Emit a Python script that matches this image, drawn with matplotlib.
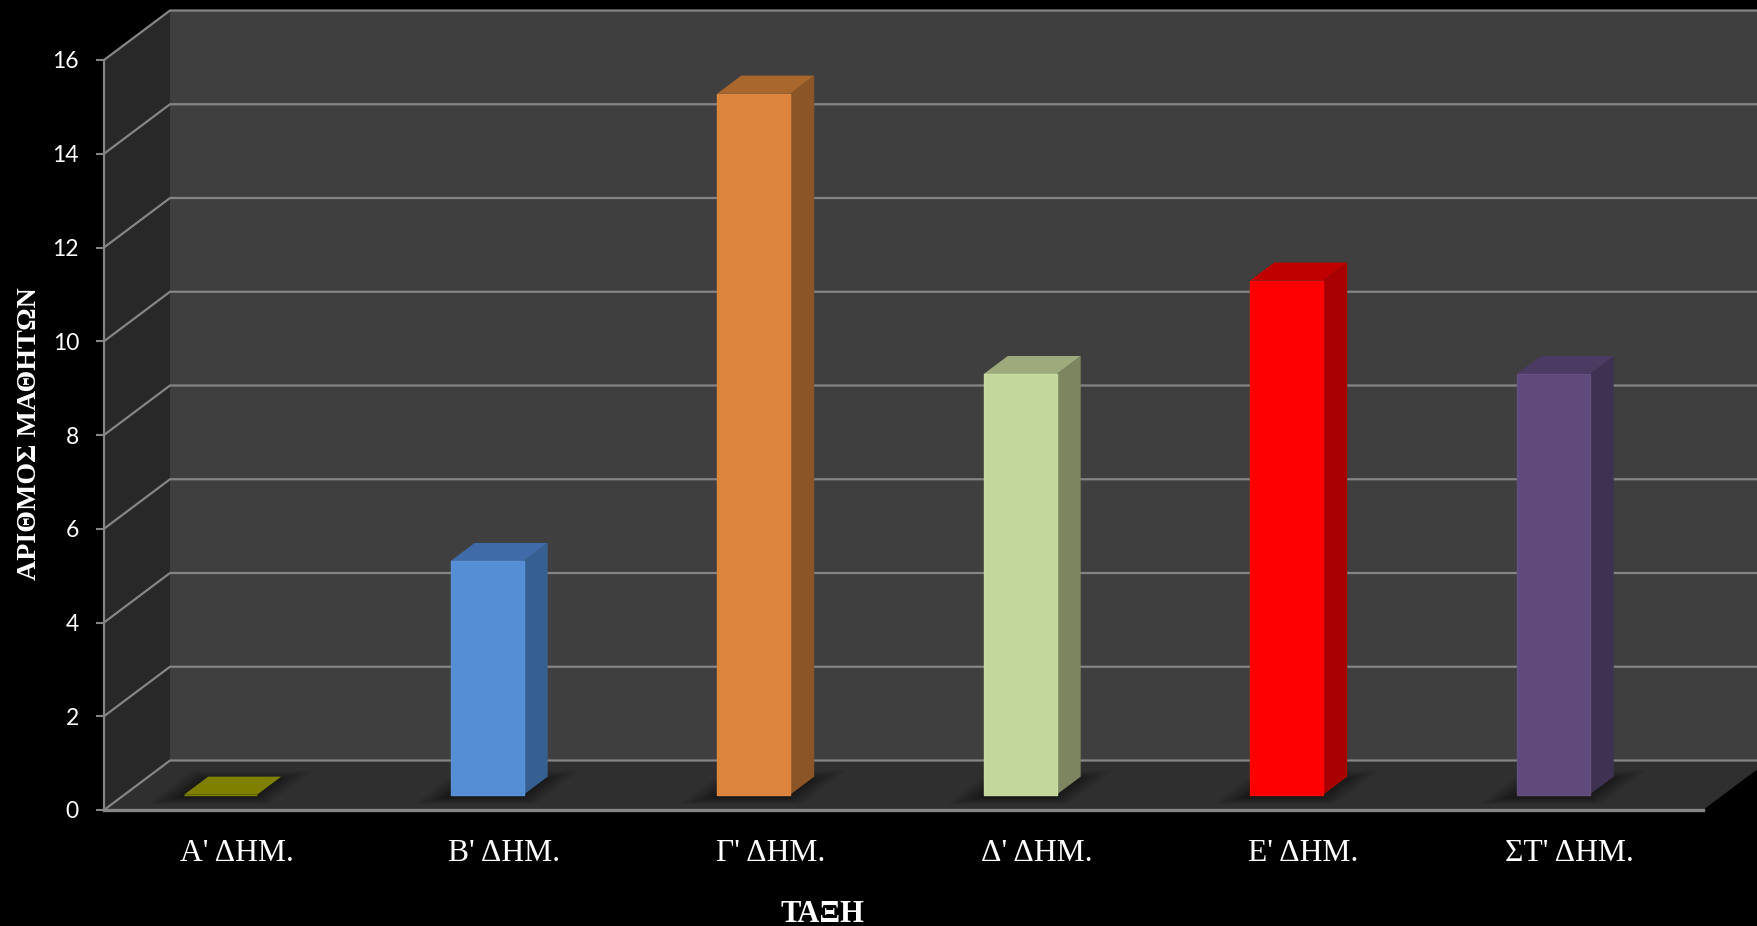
#!/usr/bin/env python3
import matplotlib
matplotlib.use("Agg")
import matplotlib.pyplot as plt

# ── data ──
categories = ["Α' ΔΗΜ.", "Β' ΔΗΜ.", "Γ' ΔΗΜ.", "Δ' ΔΗΜ.", "Ε' ΔΗΜ.", "ΣΤ' ΔΗΜ."]
students = [0, 5, 15, 9, 11, 9]
y_ticks = [0, 2, 4, 6, 8, 10, 12, 14, 16]
x_title = "ΤΑΞΗ"
y_title = "ΑΡΙΘΜΟΣ ΜΑΘΗΤΩΝ"

# ── colours: front / side / top ──
front_colors = ["#808000", "#558ed5", "#dc843e", "#c3d69b", "#ff0000", "#604a7b"]
side_colors = ["#808000", "#376092", "#8c5526", "#7c8560", "#a80000", "#3f3151"]
top_colors = ["#808000", "#3f6ca8", "#a9672e", "#9dab7c", "#c00000", "#4b3a62"]
edge_colors = ["#808000", "#5a92da", "#e08840", "#c7daa0", "#f80808", "#654e80"]
GRID = "#858585"

# ── 3D look: depth 0 = front plane of the axes, depth 1 = back wall ──
W, H = 1757, 926
DX = 66 / 266.5    # back wall shift in category units
DY = 49.5 / 46.875   # back wall shift in value units
BAR_LEFT = 0.224
BAR_W = 0.274
BAR_D0 = 0.31
BAR_D1 = 0.674
BAR_SCALE = 0.997  # bars sit deeper than the front axis, a bit shorter


def px(x, v, d):
    return x + d * DX, v + d * DY


def quad(ax, corners, color, z, **kw):
    xs, ys = zip(*[px(*c) for c in corners])
    ax.fill(xs, ys, color=color, zorder=z, clip_on=False, lw=kw.pop("lw", 0), **kw)


fig = plt.figure(figsize=(W / 100, H / 100), dpi=100, facecolor="black")
ax = fig.add_axes([104 / W, 1 - 810 / H, 1599 / W, 750 / H])
ax.set_facecolor("none")
ax.set_xlim(0, 6)
ax.set_ylim(0, 16)

# walls and floor
quad(ax, [(0, 0, 1), (6, 0, 1), (6, 16, 1), (0, 16, 1)], "#3f3f3f", 1)
quad(ax, [(0, 0, 0), (0, 0, 1), (0, 16, 1), (0, 16, 0)], "#282828", 1)
quad(ax, [(0, 0, 0), (6, 0, 0), (6, 0, 1), (0, 0, 1)], "#2f2f2f", 1)

# gridlines on back and left wall
for t in y_ticks:
    xs, ys = zip(px(0, t, 0), px(0, t, 1), px(6, t, 1))
    ax.plot(xs, ys, color=GRID, lw=1.6, zorder=2, clip_on=False, solid_joinstyle="miter")

# soft shadows on the floor
layers = 12
for i in range(len(students)):
    left = i + BAR_LEFT
    right = left + BAR_W
    for k in range(layers):
        f = k / (layers - 1)
        m = 0.09 * (1 - f)
        d0 = 0.12 + 0.14 * f
        d1 = 0.80 - 0.20 * f
        quad(ax, [(left - m, 0, d0), (right + m, 0, d0), (right + m, 0, d1), (left - m, 0, d1)],
             "black", 3, alpha=0.04)

# bars
heights = [v * BAR_SCALE for v in students]
front_bottom = px(0, 0, BAR_D0)[1]
x_front = [i + BAR_LEFT + BAR_D0 * DX for i in range(len(students))]
bars = ax.bar(x_front, heights, width=BAR_W, bottom=front_bottom, align="edge",
              color=front_colors, edgecolor=edge_colors, linewidth=1.0, zorder=5, clip_on=False)
for b in bars:
    b.set_joinstyle("round")
for i, val in enumerate(heights):
    left = i + BAR_LEFT
    right = left + BAR_W
    quad(ax, [(right, 0, BAR_D0), (right, 0, BAR_D1), (right, val, BAR_D1), (right, val, BAR_D0)],
         side_colors[i], 4)
    quad(ax, [(left, val, BAR_D0), (right, val, BAR_D0), (right, val, BAR_D1), (left, val, BAR_D1)],
         top_colors[i], 4)

# axes, ticks, labels
for name in ("top", "right"):
    ax.spines[name].set_visible(False)
for name in ("left", "bottom"):
    ax.spines[name].set_color(GRID)
    ax.spines[name].set_zorder(6)
ax.spines["left"].set_linewidth(1.6)
ax.spines["bottom"].set_linewidth(2.4)

ax.set_yticks(y_ticks)
ax.tick_params(axis="y", colors=GRID, length=6, width=1.5, pad=12, labelcolor="white")
for lab in ax.get_yticklabels():
    lab.set_fontfamily("Lato")
    lab.set_fontsize(16.5)

ax.set_xticks([i + 0.5 for i in range(len(categories))])
ax.set_xticklabels(categories, fontfamily="Liberation Serif", fontsize=22.8, color="white")
ax.tick_params(axis="x", length=0, pad=21)

ax.set_xlabel(x_title, fontfamily="Liberation Serif", fontsize=22, fontweight="bold", color="white")
ax.xaxis.set_label_coords(0.449, -0.140)
ax.xaxis.label.set_verticalalignment("center")
ax.set_ylabel(y_title, fontfamily="Liberation Serif", fontsize=20.2, fontweight="bold", color="white")
ax.yaxis.set_label_coords(-0.0465, 0.502)
ax.yaxis.label.set_verticalalignment("center")

fig.savefig("out.png", dpi=100, facecolor="black")
plt.close(fig)
